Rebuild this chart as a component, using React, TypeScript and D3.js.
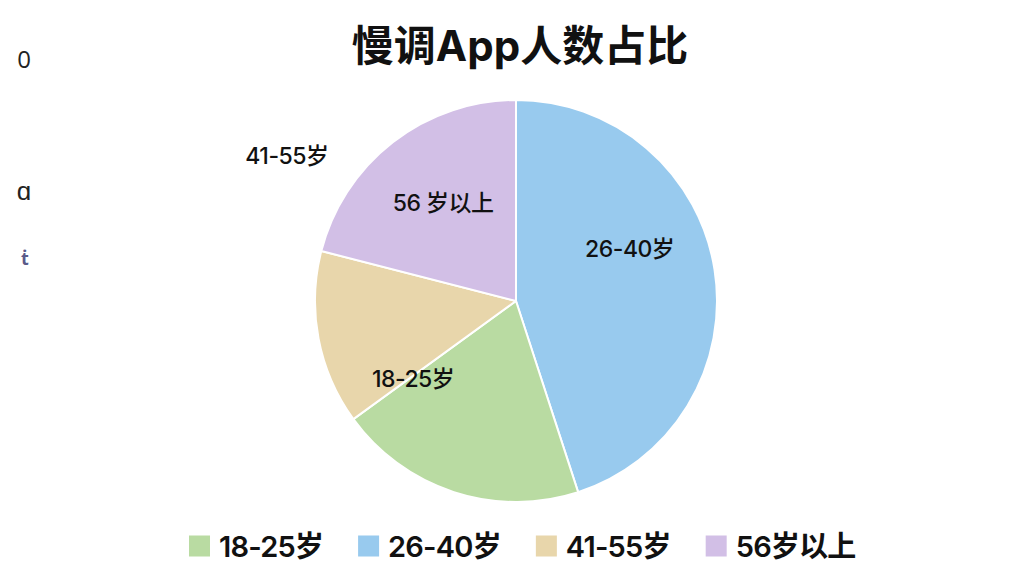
import { useRef, useEffect } from "react";
import * as d3 from "d3";

// slices in drawing order (clockwise from 12 o'clock)
const sliceNames = ["26-40岁", "18-25岁", "41-55岁", "56岁以上"];
const sliceValues = [45, 20, 14, 21];
const sliceColors = ["#98CAEE", "#B9DBA2", "#E8D6AB", "#D2BFE6"];

// labels drawn on the pie (text, polar angle in degrees, radius)
const pieLabels = ["26-40岁", "18-25岁", "41-55岁", "56 岁以上"];
const pieLabelAngles = [65.5, 232.9, 302.3, 323.3];
const pieLabelRadii = [125, 129, 271, 122];

// legend order
const legendNames = ["18-25岁", "26-40岁", "41-55岁", "56岁以上"];

const title = "慢调App人数占比";

export default function App() {
    const svgRef = useRef<SVGSVGElement | null>(null);

    useEffect(() => {
        if (!svgRef.current) return;
        const svg = d3.select(svgRef.current);
        svg.selectAll("*").remove();

        const width = 1024;
        const cx = 516;
        const cy = 301;
        const radius = 201;
        const font = "Inter, 'Noto Sans CJK SC', sans-serif";

        const color = d3.scaleOrdinal<string, string>().domain(sliceNames).range(sliceColors);

        svg.append("rect").attr("width", width).attr("height", 576).attr("fill", "#fff");

        // title
        svg.append("text")
            .attr("x", 520)
            .attr("y", 45)
            .attr("text-anchor", "middle")
            .attr("dominant-baseline", "central")
            .attr("font-family", font)
            .attr("font-weight", 700)
            .attr("font-size", 42)
            .attr("fill", "#111")
            .text(title);

        // stray glyphs on the left edge
        const stray = svg.append("g").attr("font-family", "'Open Sans', sans-serif").attr("fill", "#222");
        stray.append("text").attr("x", 24).attr("y", 58).attr("text-anchor", "middle")
            .attr("dominant-baseline", "central").attr("font-size", 24).text("0");
        stray.append("text").attr("x", 24).attr("y", 190).attr("text-anchor", "middle")
            .attr("dominant-baseline", "central").attr("font-size", 26).text("ɑ");
        stray.append("text").attr("x", 25).attr("y", 258).attr("text-anchor", "middle")
            .attr("dominant-baseline", "central").attr("font-size", 18).attr("font-weight", 700)
            .attr("fill", "#5a5a8a").text("ṫ");

        const pie = d3.pie<number>().sort(null).value(d => d);
        const arc = d3.arc<d3.PieArcDatum<number>>().innerRadius(0).outerRadius(radius);

        const g = svg.append("g").attr("transform", `translate(${cx},${cy})`);
        g.selectAll("path")
            .data(pie(sliceValues))
            .enter()
            .append("path")
            .attr("d", arc)
            .attr("fill", (_d, i) => color(sliceNames[i]))
            .attr("stroke", "#fff")
            .attr("stroke-width", 2)
            .attr("stroke-linejoin", "round");

        g.selectAll("text.lbl")
            .data(pieLabels)
            .enter()
            .append("text")
            .attr("class", "lbl")
            .attr("transform", (_d, i) => {
                const [x, y] = d3.pointRadial((pieLabelAngles[i] * Math.PI) / 180, pieLabelRadii[i]);
                return `translate(${x},${y})`;
            })
            .attr("text-anchor", "middle")
            .attr("dominant-baseline", "central")
            .attr("font-family", font)
            .attr("font-weight", 500)
            .attr("font-size", 23)
            .attr("letter-spacing", -0.5)
            .attr("fill", "#111")
            .text(d => d);

        // legend: flow layout (swatch, gap, text, gap)
        const legend = svg.append("g").attr("transform", "translate(189,546)");
        let xPos = 0;
        legendNames.forEach(name => {
            const item = legend.append("g").attr("transform", `translate(${xPos},0)`);
            item.append("rect")
                .attr("x", 0)
                .attr("y", -10.5)
                .attr("width", 21)
                .attr("height", 21)
                .attr("fill", color(name));
            const t = item.append("text")
                .attr("x", 30)
                .attr("y", 0)
                .attr("dominant-baseline", "central")
                .attr("font-family", font)
                .attr("font-weight", 600)
                .attr("font-size", 29)
                .attr("letter-spacing", -0.8)
                .attr("fill", "#111")
                .text(name);
            const w = (t.node() as SVGTextElement).getComputedTextLength();
            xPos += 30 + w + 35;
        });
    }, []);

    return (
        <div style={{ position: "fixed", left: 0, top: 0 }}>
            <svg ref={svgRef} width={1024} height={576} style={{ display: "block" }} />
        </div>
    );
}
